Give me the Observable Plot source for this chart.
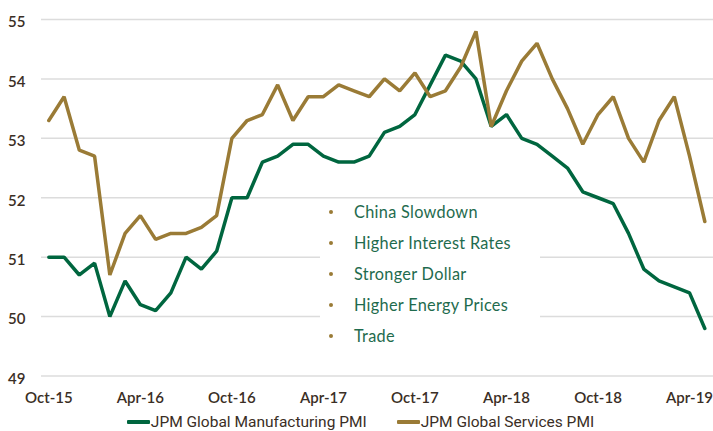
<!DOCTYPE html>
<html>
<head>
<meta charset="utf-8">
<script src="https://cdn.jsdelivr.net/npm/d3@7"></script>
<script src="https://cdn.jsdelivr.net/npm/@observablehq/plot@0.6"></script>
<style>
  html, body { margin: 0; padding: 0; background: #fff; }
  #wrap { position: relative; width: 713px; height: 431px; overflow: hidden; font-family: Lato, "Open Sans", sans-serif; }
  #notes { position: absolute; left: 320px; top: 201px; width: 220px; height: 158px; background: #fff; margin: 0; padding: 0; list-style: none; }
  #notes li { position: relative; height: 31px; line-height: 22px; padding-left: 34px; color: #1f6b4e; font-size: 16.3px; letter-spacing: 0.3px; white-space: nowrap; }
  #notes li::before { content: ""; position: absolute; left: 9px; top: 9px; width: 4px; height: 4px; border-radius: 50%; background: #9a7b36; }
  #legend { position: absolute; left: 0; top: 412px; width: 713px; height: 20px; display: flex; justify-content: center; gap: 30px; font-family: Roboto, sans-serif; font-size: 15.5px; color: #3a2e25; padding-left: 8px; box-sizing: border-box; }
  #legend span.item { display: flex; align-items: center; white-space: nowrap; }
  #legend span.sw { display: inline-block; width: 23px; height: 4px; margin-right: 1px; border-radius: 1px; }
</style>
</head>
<body>
<div id="wrap">
  <div id="chart"></div>
  <ul id="notes"></ul>
  <div id="legend"></div>
</div>
<script>
const months = ["Oct-15","Nov-15","Dec-15","Jan-16","Feb-16","Mar-16","Apr-16","May-16","Jun-16","Jul-16","Aug-16","Sep-16",
  "Oct-16","Nov-16","Dec-16","Jan-17","Feb-17","Mar-17","Apr-17","May-17","Jun-17","Jul-17","Aug-17","Sep-17",
  "Oct-17","Nov-17","Dec-17","Jan-18","Feb-18","Mar-18","Apr-18","May-18","Jun-18","Jul-18","Aug-18","Sep-18",
  "Oct-18","Nov-18","Dec-18","Jan-19","Feb-19","Mar-19","Apr-19","May-19"];
const manufacturing = [51.0,51.0,50.7,50.9,50.0,50.6,50.2,50.1,50.4,51.0,50.8,51.1,
  52.0,52.0,52.6,52.7,52.9,52.9,52.7,52.6,52.6,52.7,53.1,53.2,
  53.4,53.9,54.4,54.3,54.0,53.2,53.4,53.0,52.9,52.7,52.5,52.1,
  52.0,51.9,51.4,50.8,50.6,50.5,50.4,49.8];
const services = [53.3,53.7,52.8,52.7,50.7,51.4,51.7,51.3,51.4,51.4,51.5,51.7,
  53.0,53.3,53.4,53.9,53.3,53.7,53.7,53.9,53.8,53.7,54.0,53.8,
  54.1,53.7,53.8,54.2,54.8,53.2,53.8,54.3,54.6,54.0,53.5,52.9,
  53.4,53.7,53.0,52.6,53.3,53.7,52.7,51.6];
const seriesNames = ["JPM Global Manufacturing PMI", "JPM Global Services PMI"];
const seriesColors = ["#00663f", "#9a7b36"];
const tickLabels = ["Oct-15","Apr-16","Oct-16","Apr-17","Oct-17","Apr-18","Oct-18","Apr-19"];
const yTicks = [49, 50, 51, 52, 53, 54, 55];
const riskFactors = ["China Slowdown", "Higher Interest Rates", "Stronger Dollar", "Higher Energy Prices", "Trade"];

const rows = [];
months.forEach((m, i) => {
  rows.push({i, month: m, value: manufacturing[i], series: seriesNames[0]});
  rows.push({i, month: m, value: services[i], series: seriesNames[1]});
});

const chart = Plot.plot({
  width: 713,
  height: 411,
  marginLeft: 41,
  marginRight: 0,
  marginTop: 19,
  marginBottom: 35.5,
  style: {fontFamily: "Lato, sans-serif", background: "transparent"},
  x: {domain: [-0.48, 43.57], axis: null},
  y: {domain: [49, 55], axis: null},
  color: {domain: seriesNames, range: seriesColors},
  marks: [
    Plot.ruleY(yTicks, {stroke: "#dcdcdc", strokeWidth: 1.5}),
    Plot.axisY({ticks: yTicks, tickSize: 0, tickPadding: 16, tickFormat: d => String(d), label: null,
      fontSize: 15, fill: "#3a2e25", fontWeight: 600, dy: 3}),
    Plot.axisX({ticks: tickLabels.map(l => months.indexOf(l)), tickFormat: i => months[i], label: null,
      tickSize: 0, tickPadding: 16, fontSize: 15, fill: "#3a2e25", fontWeight: 600}),
    Plot.lineY(rows, {x: "i", y: "value", z: "series", stroke: "series", strokeWidth: 3.5,
      strokeLinejoin: "miter", strokeLinecap: "round"})
  ]
});
document.getElementById("chart").appendChild(chart);

const notes = document.getElementById("notes");
riskFactors.forEach(t => { const li = document.createElement("li"); li.textContent = t; notes.appendChild(li); });

const legend = document.getElementById("legend");
seriesNames.forEach((n, k) => {
  const item = document.createElement("span"); item.className = "item";
  const sw = document.createElement("span"); sw.className = "sw"; sw.style.background = seriesColors[k];
  item.appendChild(sw); item.appendChild(document.createTextNode(n));
  legend.appendChild(item);
});
</script>
</body>
</html>
